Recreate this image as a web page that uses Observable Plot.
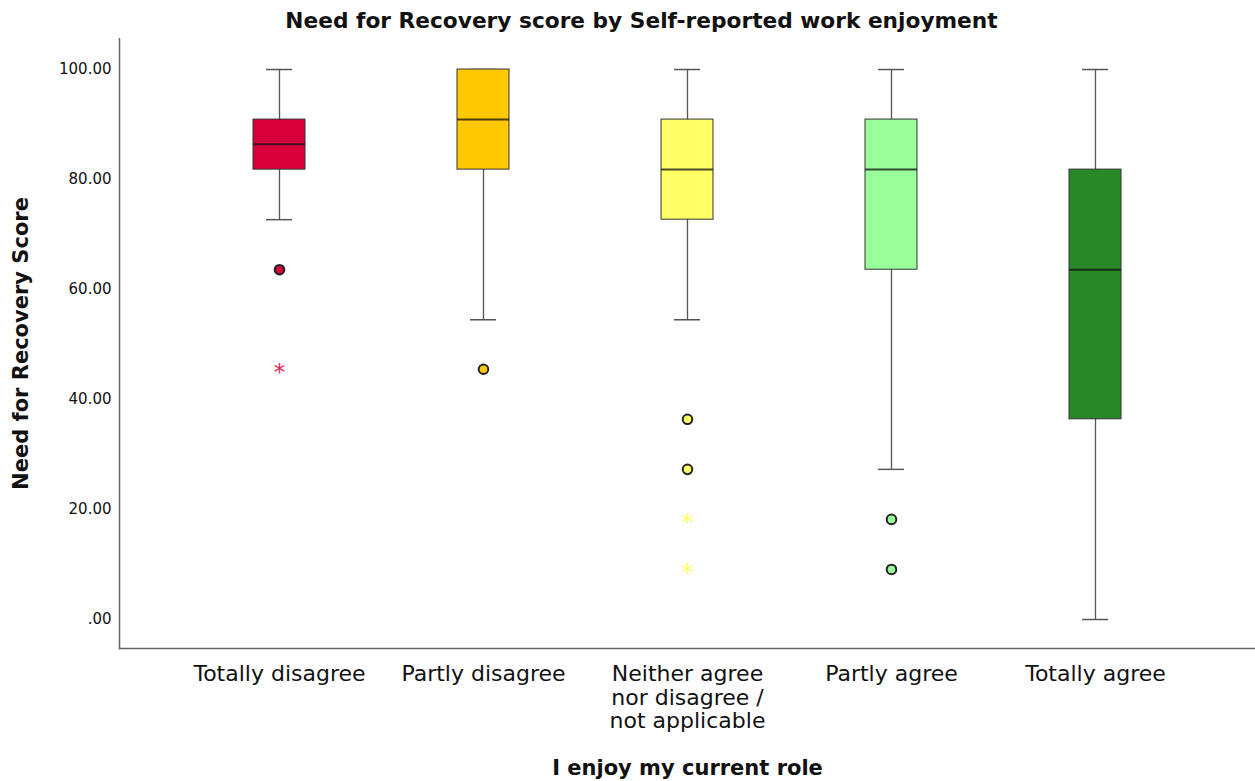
<!DOCTYPE html>
<html>
<head>
<meta charset="utf-8">
<script src="https://cdn.jsdelivr.net/npm/d3@7"></script>
<script src="https://cdn.jsdelivr.net/npm/@observablehq/plot@0.6"></script>
<style>
  body { margin: 0; background: #fff; font-family: "DejaVu Sans", sans-serif; }
  #title { height: 38px; width: 1255px; box-sizing: border-box; padding-left: 28px; padding-top: 9px;
           text-align: center; font-weight: bold; font-size: 21.7px; line-height: 24px; color: #111; }
</style>
</head>
<body>
<div id="title">Need for Recovery score by Self-reported work enjoyment</div>
<div id="chart"></div>
<script>
const categories = ["Totally disagree", "Partly disagree", "Neither agree nor disagree / not applicable", "Partly agree", "Totally agree"];
const tickLabels = ["Totally disagree", "Partly disagree", "Neither agree\nnor disagree /\nnot applicable", "Partly agree", "Totally agree"];
const colors = ["#D6003A", "#FFC800", "#FFFF66", "#99FF99", "#2A872A"];
const whiskerHigh = [100, 100, 100, 100, 100];
const q3 = [90.9, 100, 90.9, 90.9, 81.8];
const median = [86.4, 90.9, 81.8, 81.8, 63.6];
const q1 = [81.8, 81.8, 72.7, 63.6, 36.4];
const whiskerLow = [72.7, 54.5, 54.5, 27.3, 0];
const outlierCat = [0, 1, 2, 2, 3, 3];
const outlierVal = [63.6, 45.5, 36.4, 27.3, 18.2, 9.1];
const extremeCat = [0, 2, 2];
const extremeVal = [45.5, 18.2, 9.1];
const extremeColors = ["#E0245A", "#FFFF55", "#FFFF55"];
const yTicks = [0, 20, 40, 60, 80, 100];
const yDomain = [-5.27, 105.64];

const boxes = categories.map((c, i) => ({cat: c, color: colors[i], hi: whiskerHigh[i], q3: q3[i], med: median[i], q1: q1[i], lo: whiskerLow[i]}));
const outliers = outlierCat.map((k, i) => ({cat: categories[k], color: colors[k], v: outlierVal[i]}));
const extremes = extremeCat.map((k, i) => ({cat: categories[k], color: extremeColors[i], v: extremeVal[i]}));

const chart = Plot.plot({
  width: 1255,
  height: 743,
  marginTop: 0,
  marginBottom: 133,
  marginLeft: 119,
  marginRight: 0,
  style: {fontFamily: "DejaVu Sans, sans-serif", color: "#111"},
  x: {type: "band", domain: categories, paddingInner: 0, paddingOuter: 0.284},
  y: {domain: yDomain},
  marks: [
    Plot.axisY({ticks: yTicks, tickSize: 0, tickPadding: 8, fontSize: 15,
      tickFormat: d => d === 0 ? ".00" : d.toFixed(2),
      label: "Need for Recovery Score", labelAnchor: "center", labelArrow: "none", labelOffset: 106}),
    Plot.axisX({tickSize: 0, tickPadding: 16, fontSize: 22, lineHeight: 1.07,
      tickFormat: d => tickLabels[categories.indexOf(d)],
      label: "I enjoy my current role", labelAnchor: "center", labelArrow: "none", labelOffset: 126}),
    Plot.ruleX(boxes, {x: "cat", y1: "lo", y2: "hi", stroke: "#555", strokeWidth: 1.3}),
    Plot.tickY(boxes, {x: "cat", y: "hi", stroke: "#555", strokeWidth: 1.5, insetLeft: 89, insetRight: 89}),
    Plot.tickY(boxes, {x: "cat", y: "lo", stroke: "#555", strokeWidth: 1.5, insetLeft: 89, insetRight: 89}),
    Plot.barY(boxes, {x: "cat", y1: "q1", y2: "q3", fill: "color", stroke: "#333", strokeWidth: 1, insetLeft: 76, insetRight: 76}),
    Plot.tickY(boxes, {x: "cat", y: "med", stroke: "#111", strokeOpacity: 0.75, strokeWidth: 2, insetLeft: 76, insetRight: 76}),
    Plot.dot(outliers, {x: "cat", y: "v", fill: "color", stroke: "#222", strokeWidth: 2, r: 4.8}),
    Plot.text(extremes, {x: "cat", y: "v", text: () => "*", fill: "color", fontSize: 23, dy: 3}),
    Plot.frame({anchor: "left", stroke: "#666", strokeWidth: 1.5}),
    Plot.frame({anchor: "bottom", stroke: "#666", strokeWidth: 1.5})
  ]
});
document.getElementById("chart").appendChild(chart);
chart.querySelectorAll("g[aria-label='y-axis label'] text, g[aria-label='x-axis label'] text").forEach(t => {
  t.style.fontWeight = "bold"; t.style.fontSize = "21px";
});
</script>
</body>
</html>
